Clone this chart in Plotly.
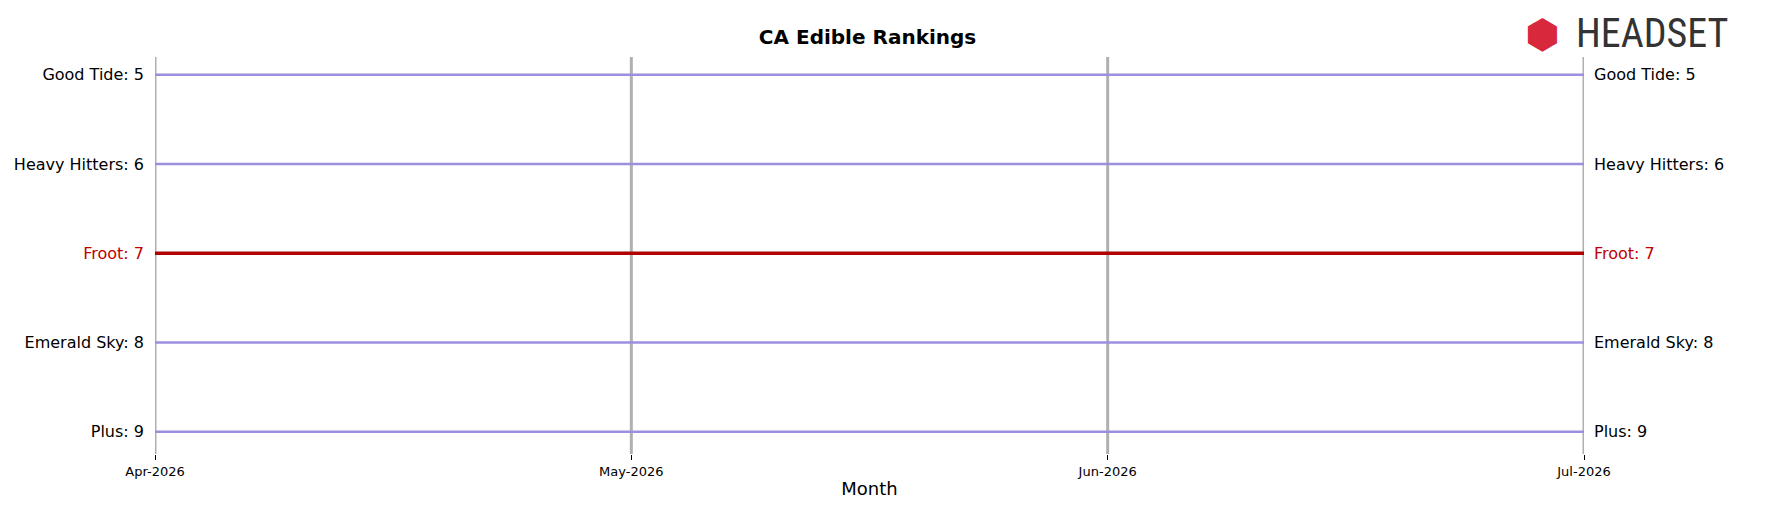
import plotly.graph_objects as go

month_labels = ["Apr-2026", "May-2026", "Jun-2026", "Jul-2026"]
brands = ["Good Tide", "Heavy Hitters", "Froot", "Emerald Sky", "Plus"]
ranks = {
    "Good Tide": [5, 5, 5, 5],
    "Heavy Hitters": [6, 6, 6, 6],
    "Froot": [7, 7, 7, 7],
    "Emerald Sky": [8, 8, 8, 8],
    "Plus": [9, 9, 9, 9],
}
highlight = "Froot"

fig = go.Figure()
for m in month_labels:
    fig.add_shape(type="line", x0=m, x1=m, xref="x", y0=0, y1=1, yref="paper",
                  line=dict(color="#b0b0b0", width=3), layer="below")
for b in brands:
    hl = b == highlight
    fig.add_trace(go.Scatter(x=month_labels, y=ranks[b], mode="lines",
                             line=dict(color="#b00000" if hl else "#9b8fe0", width=3.5 if hl else 2.5),
                             showlegend=False, hoverinfo="skip", cliponaxis=False))

font = "DejaVu Sans"
ann = []
for b in brands:
    hl = b == highlight
    col = "#c00000" if hl else "black"
    ann.append(dict(x=1, xref="paper", y=ranks[b][-1], yref="y", xanchor="left", xshift=8,
                    text=f"{b}: {ranks[b][-1]}", showarrow=False, font=dict(size=16, color=col, family=font)))
ann.append(dict(x=0.957, xref="paper", y=1.0, yref="paper", xanchor="left", yanchor="bottom", yshift=-2,
                text="⬢", showarrow=False, font=dict(size=40, color="#d8283c")))
ann.append(dict(x=0.993, xref="paper", y=1.0, yref="paper", xanchor="left", yanchor="bottom", yshift=-2,
                text="HEADSET", showarrow=False,
                font=dict(size=40, color="#333333", family="Liberation Sans Narrow, Roboto Condensed, Liberation Sans")))

fig.update_layout(
    width=1765, height=507, plot_bgcolor="white", paper_bgcolor="white",
    margin=dict(l=147, r=189, t=49, b=61),
    title=dict(text="<b>CA Edible Rankings</b>", x=0.487, xanchor="center", y=0.942, yanchor="middle",
               font=dict(size=20, family=font, color="black")),
    font=dict(family=font),
    annotations=ann,
)
fig.update_xaxes(type="category", range=[0, 3],
                 showgrid=False, zeroline=False, showline=False, automargin=False,
                 ticks="outside", ticklen=5, tickcolor="black", tickfont=dict(size=13, color="black"),
                 title=dict(text="Month", font=dict(size=18, color="black"), standoff=4))
fig.update_yaxes(range=[9.25, 4.8], tickvals=[ranks[b][0] for b in brands], automargin=False,
                 ticktext=[f"<span style='color:{'#c00000' if b == highlight else 'black'}'>{b}: {ranks[b][0]}</span>" for b in brands],
                 showgrid=False, zeroline=False, showline=False, ticks="", ticklabelstandoff=10,
                 tickfont=dict(size=16, color="black"))
fig.write_html("out.html")
